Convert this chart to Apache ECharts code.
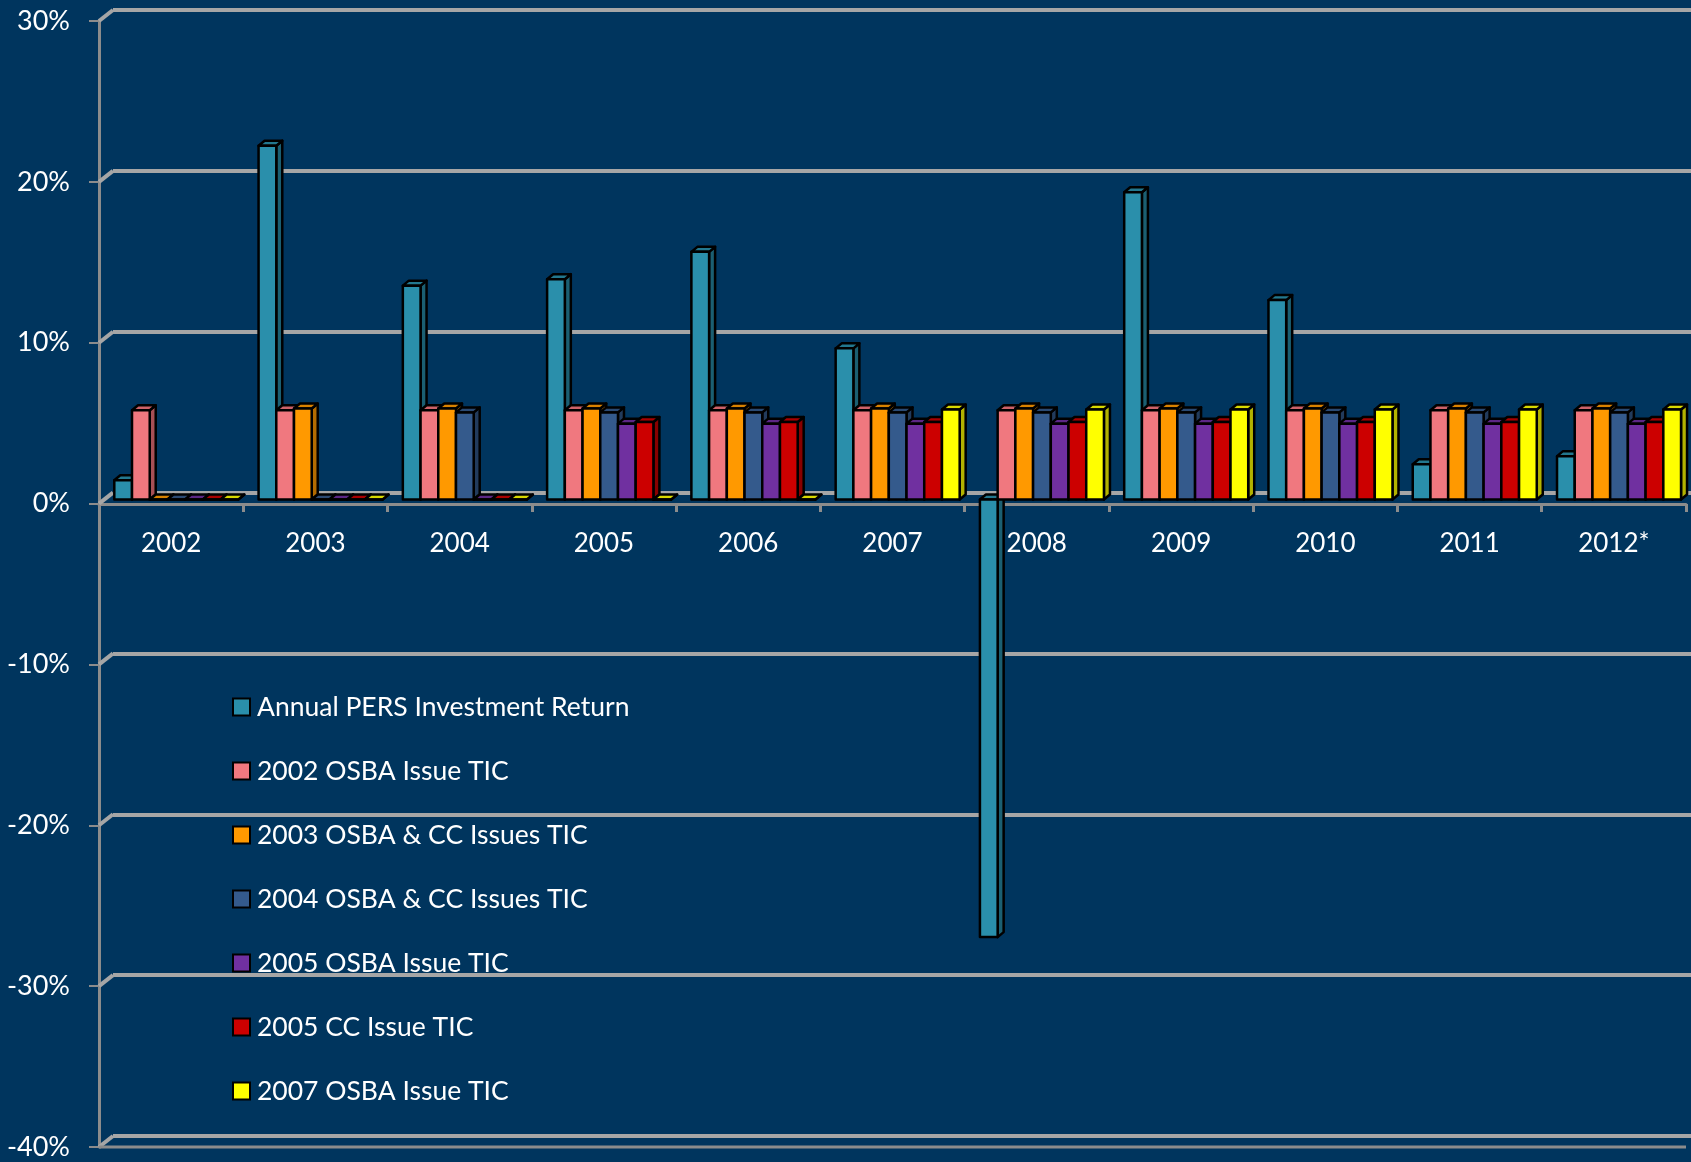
<!DOCTYPE html>
<html><head><meta charset="utf-8">
<script src="https://cdn.jsdelivr.net/npm/echarts@6/dist/echarts.min.js"></script>
<style>html,body{margin:0;padding:0;background:#00355e;}#c{width:1691px;height:1162px;}</style>
</head><body><div id="c"></div>
<script>
// ---- data ----
const categories = ['2002','2003','2004','2005','2006','2007','2008','2009','2010','2011','2012*'];
const seriesNames = ['Annual PERS Investment Return','2002 OSBA Issue TIC','2003 OSBA & CC Issues TIC','2004 OSBA & CC Issues TIC','2005 OSBA Issue TIC','2005 CC Issue TIC','2007 OSBA Issue TIC'];
const persReturn = [1.2, 22.0, 13.3, 13.7, 15.4, 9.4, -27.2, 19.1, 12.4, 2.2, 2.7];
const tic2002 = [5.55, 5.55, 5.55, 5.55, 5.55, 5.55, 5.55, 5.55, 5.55, 5.55, 5.55];
const tic2003 = [0, 5.66, 5.66, 5.66, 5.66, 5.66, 5.66, 5.66, 5.66, 5.66, 5.66];
const tic2004 = [0, 0, 5.42, 5.42, 5.42, 5.42, 5.42, 5.42, 5.42, 5.42, 5.42];
const tic2005osba = [0, 0, 0, 4.72, 4.72, 4.72, 4.72, 4.72, 4.72, 4.72, 4.72];
const tic2005cc = [0, 0, 0, 4.82, 4.82, 4.82, 4.82, 4.82, 4.82, 4.82, 4.82];
const tic2007 = [0, 0, 0, 0, 0, 5.6, 5.6, 5.6, 5.6, 5.6, 5.6];
const yTicks = [-40, -30, -20, -10, 0, 10, 20, 30];

const seriesValues = [persReturn, tic2002, tic2003, tic2004, tic2005osba, tic2005cc, tic2007];
const colors = ['#2a8fab', '#f0787f', '#ff9900', '#345a8c', '#7030a0', '#cc0000', '#ffff00'];
const tops   = ['#23788f', '#cc6269', '#d98200', '#2b4a73', '#5c2785', '#aa0000', '#d9d900'];
const sides  = ['#1b5f72', '#a84f55', '#b36b00', '#223b5c', '#49206a', '#880000', '#b3b300'];

const AXIS_GRAY = '#8c8c8c';
const GRID_GRAY = '#a6a6a6';
const FONT = 'Lato';

function makeRender(k) {
  return function (params, api) {
    const cat = api.value(0), v = api.value(1);
    const cw = api.size([1, 0])[0];
    const c0 = api.coord([cat, 0]);
    const c1 = api.coord([cat, v]);
    const bw = cw * 0.1228;
    const x0 = c0[0] - cw / 2 + cw * 0.106 + k * bw;
    const yb = c0[1] - 4, yt = c1[1] - 4;
    const yHi = Math.min(yb, yt), yLo = Math.max(yb, yt);
    const dx = 6, dy = -5;
    const st = { stroke: '#000', lineWidth: 2.5, lineJoin: 'round' };
    return {
      type: 'group',
      children: [
        { type: 'polygon', shape: { points: [[x0 + bw, yHi], [x0 + bw + dx, yHi + dy], [x0 + bw + dx, yLo + dy], [x0 + bw, yLo]] },
          style: Object.assign({ fill: sides[k] }, st) },
        { type: 'polygon', shape: { points: [[x0, yHi], [x0 + dx, yHi + dy], [x0 + bw + dx, yHi + dy], [x0 + bw, yHi]] },
          style: Object.assign({ fill: tops[k] }, st) },
        { type: 'rect', shape: { x: x0, y: yHi, width: bw, height: yLo - yHi },
          style: Object.assign({ fill: colors[k] }, st) }
      ]
    };
  };
}

const barSeries = seriesNames.map((name, k) => ({
  name: name,
  type: 'custom',
  xAxisIndex: 0, yAxisIndex: 0,
  renderItem: makeRender(k),
  itemStyle: { color: colors[k] },
  encode: { x: 0, y: 1 },
  data: seriesValues[k].map((v, i) => [i, v]),
  z: 5
}));

const decoSeries = {
  type: 'custom',
  name: 'deco',
  xAxisIndex: 0, yAxisIndex: 0,
  silent: true,
  z: 1,
  encode: { x: 0, y: 1 },
  data: yTicks.map(v => [0, v]),
  renderItem: function (params, api) {
    const cs = params.coordSys;
    const y = api.coord([0, api.value(1)])[1];
    const kids = [{ type: 'line', shape: { x1: cs.x, y1: y, x2: cs.x + 14, y2: y - 11 },
      style: { stroke: GRID_GRAY, lineWidth: 4 } }];
    if (api.value(1) === yTicks[0]) {
      kids.push({ type: 'line', shape: { x1: cs.x, y1: y, x2: cs.x + cs.width, y2: y },
        style: { stroke: AXIS_GRAY, lineWidth: 3 } });
    }
    return { type: 'group', children: kids };
  }
};

const chart = echarts.init(document.getElementById('c'));
chart.setOption({
  backgroundColor: '#00355e',
  animation: false,
  textStyle: { fontFamily: FONT },
  grid: [
    { left: 99, right: 5, top: 21, bottom: 15, outerBoundsMode: 'none', containLabel: false },
    { left: 113, right: 0, top: 10, bottom: 26, outerBoundsMode: 'none', containLabel: false },
    { left: 99, right: 5, top: 21, bottom: 658, outerBoundsMode: 'none', containLabel: false }
  ],
  xAxis: [
    { type: 'category', gridIndex: 0, data: categories,
      axisLine: { show: false }, axisTick: { show: false }, axisLabel: { show: false },
      splitLine: { show: false } },
    { type: 'value', gridIndex: 1, show: false },
    { type: 'category', gridIndex: 2, data: categories, position: 'bottom',
      axisLine: { show: true, onZero: false, lineStyle: { color: AXIS_GRAY, width: 3 } },
      axisTick: { show: true, length: 8, lineStyle: { color: AXIS_GRAY, width: 3 } },
      axisLabel: { color: '#ffffff', fontSize: 26, fontFamily: FONT, margin: 27 },
      splitLine: { show: false } }
  ],
  yAxis: [
    { type: 'value', gridIndex: 0, min: -40, max: 30, interval: 10,
      axisLine: { show: true, lineStyle: { color: AXIS_GRAY, width: 3 } },
      axisTick: { show: true, length: 10, lineStyle: { color: AXIS_GRAY, width: 2 } },
      axisLabel: { color: '#ffffff', fontSize: 27, fontFamily: FONT, margin: 29, formatter: '{value}%' },
      splitLine: { show: false } },
    { type: 'value', gridIndex: 1, min: -40, max: 30, interval: 10,
      axisLine: { show: false }, axisTick: { show: false }, axisLabel: { show: false },
      splitLine: { show: true, lineStyle: { color: GRID_GRAY, width: 4 } } },
    { type: 'value', gridIndex: 2, min: 0, max: 30, interval: 10, show: false }
  ],
  legend: {
    data: seriesNames,
    orient: 'vertical',
    left: 232, top: 692,
    padding: 0,
    icon: 'rect',
    itemWidth: 17, itemHeight: 17,
    itemGap: 34,
    itemStyle: { borderColor: '#000', borderWidth: 2 },
    textStyle: { color: '#ffffff', fontSize: 26.5, fontFamily: FONT, lineHeight: 30, padding: [0, 0, 0, 2] },
    selectedMode: false
  },
  series: [decoSeries].concat(barSeries)
});
</script>
</body></html>
